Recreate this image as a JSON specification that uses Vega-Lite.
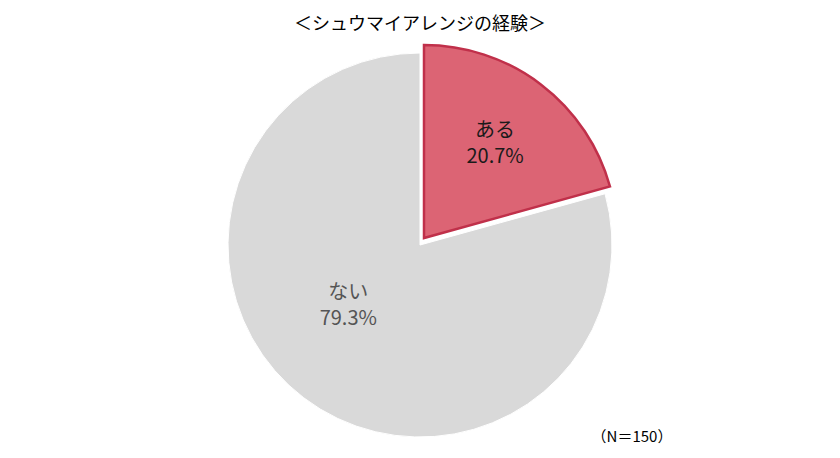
{
  "$schema": "https://vega.github.io/schema/vega-lite/v6.json",
  "width": 840,
  "height": 422,
  "autosize": "none",
  "padding": {"left": 0, "top": 34, "right": 0, "bottom": 2},
  "background": "white",
  "config": {"view": {"stroke": null}},
  "title": {
    "text": "＜シュウマイアレンジの経験＞",
    "font": "Noto Sans CJK JP",
    "fontSize": 18,
    "fontWeight": "normal",
    "color": "#000000",
    "anchor": "middle",
    "offset": 0
  },
  "data": {
    "values": [
      {"cat": "ある", "pct": 20.7, "label": "ある\n20.7%"},
      {"cat": "ない", "pct": 79.3, "label": "ない\n79.3%"}
    ]
  },
  "encoding": {
    "theta": {"field": "pct", "type": "quantitative", "stack": true},
    "color": {
      "field": "cat",
      "type": "nominal",
      "scale": {"domain": ["ある", "ない"], "range": ["#dc6474", "#d9d9d9"]},
      "legend": null
    }
  },
  "layer": [
    {
      "mark": {"type": "arc", "outerRadius": 192, "stroke": "#ffffff", "strokeWidth": 1},
      "encoding": {
        "opacity": {"condition": {"test": "datum.cat === 'ある'", "value": 0}, "value": 1}
      }
    },
    {
      "mark": {"type": "arc", "outerRadius": 193, "stroke": "#c0304a", "strokeWidth": 2.5, "xOffset": 4, "yOffset": -7},
      "encoding": {
        "opacity": {"condition": {"test": "datum.cat === 'ない'", "value": 0}, "value": 1}
      }
    },
    {
      "mark": {"type": "text", "radius": 124, "lineBreak": "\n", "lineHeight": 26, "font": "Noto Sans CJK JP", "fontSize": 20, "align": "center", "baseline": "middle", "yOffset": -15},
      "encoding": {
        "text": {"condition": {"test": "datum.cat === 'ある'", "field": "label"}, "value": ""},
        "color": {"value": "#1a1a1a"}
      }
    },
    {
      "mark": {"type": "text", "radius": 92, "lineBreak": "\n", "lineHeight": 26, "font": "Noto Sans CJK JP", "fontSize": 20, "align": "center", "baseline": "middle", "xOffset": -16, "yOffset": -25},
      "encoding": {
        "text": {"condition": {"test": "datum.cat === 'ない'", "field": "label"}, "value": ""},
        "color": {"value": "#555555"}
      }
    },
    {
      "data": {"values": [{"note": "（N＝150）"}]},
      "mark": {"type": "text", "font": "Noto Sans CJK JP", "fontSize": 15, "color": "#000000", "align": "center", "baseline": "middle", "x": 632, "y": 403},
      "encoding": {
        "text": {"field": "note", "type": "nominal"},
        "theta": null,
        "color": {"value": "#000000"}
      }
    }
  ]
}
